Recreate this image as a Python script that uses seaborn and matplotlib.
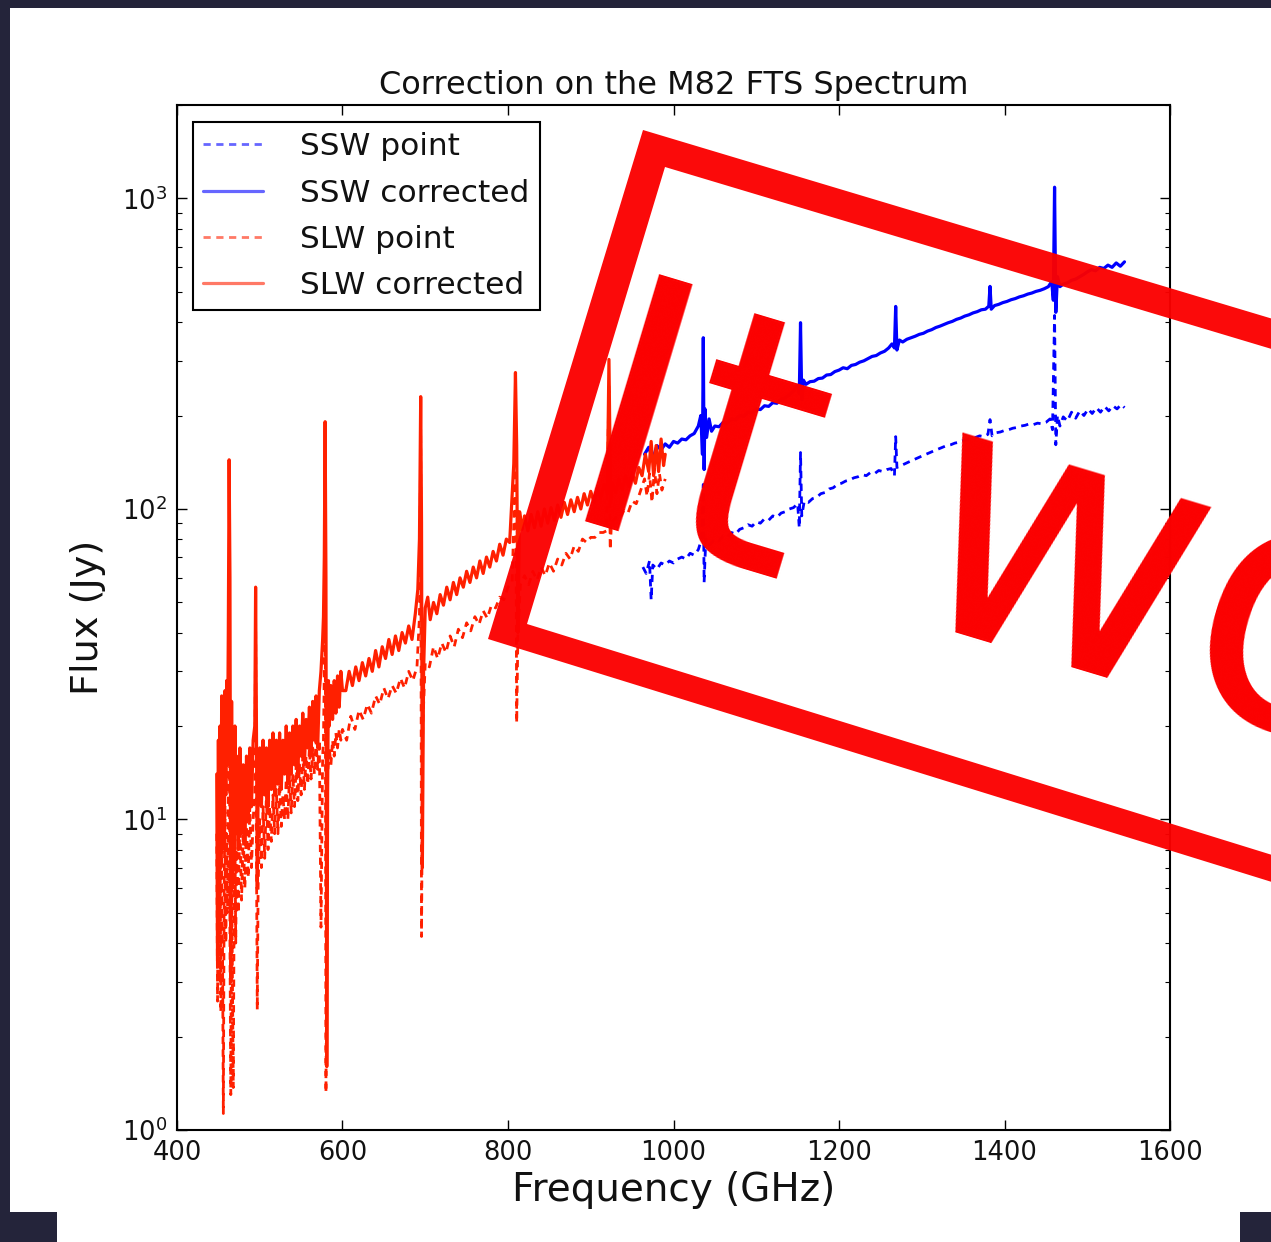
import matplotlib
matplotlib.use("Agg")
import matplotlib.pyplot as plt
import seaborn as sns
import pandas as pd
from matplotlib.path import Path
from matplotlib.patches import PathPatch, Rectangle

# ---------------- data ----------------
slw_corr_f = [448, 449, 450, 451, 452, 453, 454, 455, 456, 457,
              458, 459, 460, 461, 462, 463, 464, 465, 466, 467,
              468, 469, 470, 471, 472, 474, 476, 478, 480, 482,
              484, 486, 488, 490, 492, 494, 495, 496, 497, 498,
              500, 502, 504, 506, 508, 510, 512, 514, 516, 518,
              520, 522, 524, 526, 528, 530, 532, 534, 536, 538,
              540, 542, 544, 546, 548, 550, 552, 554, 556, 558,
              560, 562, 564, 566, 568, 570, 572, 574, 576, 577,
              578, 579, 580, 581, 582, 583, 584, 586, 588, 590,
              592, 594, 596, 598, 600,
              604, 608, 612, 616, 620, 624, 628, 632, 636, 640,
              644, 648, 652, 656, 660, 664, 668, 672, 676, 680,
              684, 688, 691, 693, 694.5, 695.5, 696.5, 698, 700, 703,
              706, 710, 714, 718, 722, 726, 730, 734, 738, 742,
              746, 750, 754, 758, 762, 766, 770, 774, 778, 782,
              786, 790, 794, 798, 802, 805, 807, 809, 810.5, 812,
              814, 817, 820, 824, 828, 832, 836, 840, 844, 848,
              852, 856, 860, 864, 868, 872, 876, 880, 884, 888,
              892, 896, 900, 904, 908, 912, 916, 920, 922, 924,
              926, 930, 934, 938, 942, 946, 950, 954, 958, 962,
              966, 970, 973, 976, 979, 982, 985, 988, 990]
slw_corr_jy = [14, 3.5, 18, 5, 20, 7, 25, 8, 22, 9,
               26, 12, 28, 15, 40, 144, 60, 3, 24, 6,
               18, 7, 20, 9, 16, 8, 17, 9, 15, 8.5,
               16, 10, 17, 11, 18, 20, 56, 20, 6, 12,
               17, 11, 18, 12, 17, 11, 18, 12.5, 19, 12,
               18, 13, 19, 12.5, 18, 14, 20, 13, 19, 14,
               20, 15, 21, 14, 20, 16, 22, 15, 21, 17,
               23, 16, 24, 18, 25, 17, 26, 30, 38, 45,
               70, 191, 60, 1.6, 12, 28, 20, 27, 21, 28,
               22, 29, 23, 30, 26,
               26, 30, 27, 31, 28, 32, 29, 33, 30, 35,
               31, 36, 33, 38, 34, 39, 35, 40, 37, 42,
               38, 46, 55, 80, 230, 90, 7, 30, 48, 52,
               44, 50, 46, 53, 49, 56, 51, 58, 53, 60,
               56, 63, 58, 65, 60, 68, 62, 70, 65, 73,
               68, 77, 71, 80, 78, 110, 140, 275, 160, 40,
               98, 86, 95, 85, 96, 87, 98, 88, 100, 90,
               101, 92, 103, 94, 105, 96, 107, 98, 109, 100,
               112, 103, 114, 105, 117, 108, 120, 112, 303, 105,
               122, 113, 125, 115, 128, 118, 131, 121, 136, 128,
               150, 132, 165, 128, 160, 132, 168, 138, 150]

slw_point_f = [448, 449, 450, 451, 452, 453, 454, 455, 456, 457,
               458, 459, 460, 461, 462, 463, 464, 465, 466, 467,
               468, 469, 470, 471, 472, 474, 476, 478, 480, 482,
               484, 486, 488, 490, 492, 494, 495, 496, 497, 498,
               500, 502, 504, 506, 508, 510, 512, 514, 516, 518,
               520, 522, 524, 526, 528, 530, 532, 534, 536, 538,
               540, 542, 544, 546, 548, 550, 552, 554, 556, 558,
               560, 562, 564, 566, 568, 570, 572, 574, 576, 577,
               578, 579, 580, 582, 584, 586, 588, 590, 592, 594,
               596, 598,
               600, 605, 610, 615, 620, 625, 630, 635, 640, 645,
               650, 655, 660, 665, 670, 675, 680, 685, 690, 693,
               694.5, 695.5, 697, 700, 705, 710, 715, 720, 725, 730,
               735, 740, 745, 750, 755, 760, 765, 770, 775, 780,
               785, 790, 795, 800, 805, 807, 809, 810.5, 812, 815,
               820, 825, 830, 835, 840, 845, 850, 855, 860, 865,
               870, 875, 880, 885, 890, 895, 900, 905, 910, 915,
               919, 922, 923.5, 925, 930, 935, 940, 945, 950, 955,
               960, 965, 968, 971, 974, 977, 980, 983, 986, 990]
slw_point_jy = [9, 2.6, 12, 3, 10, 2.4, 8, 4, 1.13, 6,
                11, 4, 9, 5, 14, 60, 4, 1.3, 7, 3,
                1.37, 5, 9, 4, 8, 5, 10, 5.5, 9, 6,
                10, 6.5, 11, 7, 10, 12, 45, 8, 2.44, 6,
                10, 7, 11, 7.5, 12, 8, 11, 8.5, 12, 9,
                12.5, 9, 13, 9.5, 12, 10, 13.5, 10, 14, 10.5,
                14, 11, 15, 11.5, 15, 12, 16, 12.5, 16, 13,
                17, 13.5, 17, 14, 18, 14.5, 18, 4.5, 16, 18,
                30, 120, 1.32, 14, 17, 15, 18, 16, 19, 17,
                19.5, 18,
                19.5, 18, 21.5, 19.5, 22.5, 21, 23.5, 22, 25, 23.5,
                26.5, 24.5, 27, 25.5, 28.5, 26.5, 30, 28, 31, 45,
                180, 4.2, 20, 32, 31, 36, 33, 37, 34.5, 39,
                36, 41, 38.5, 43, 40.5, 45, 42.5, 47, 44.5, 49,
                48, 52, 51, 56, 58, 90, 206, 20.5, 40, 57,
                61, 57, 63, 59, 65, 61, 67, 63, 69, 66,
                72, 69, 76, 73, 80, 78, 81, 81, 84, 84,
                85, 250, 74, 90, 94, 93, 99, 97, 106, 104,
                114, 125, 110, 130, 105, 135, 112, 130, 115, 125]

ssw_corr_f = [965, 970, 975, 980, 985, 990, 995, 1000, 1005, 1010,
              1015, 1020, 1025, 1030, 1033, 1035, 1036, 1037, 1038, 1040,
              1043, 1046, 1050, 1055, 1060, 1065, 1070, 1075, 1080, 1085,
              1090, 1095, 1100, 1105, 1110, 1115, 1120, 1125, 1130, 1135,
              1140, 1145, 1150, 1152, 1153.5, 1155, 1157, 1160, 1165, 1170,
              1175, 1180, 1185, 1190, 1195, 1200, 1205, 1210, 1215, 1220,
              1225, 1230, 1235, 1240, 1245, 1250, 1255, 1260, 1264, 1267,
              1268.5, 1270, 1273, 1277, 1282, 1287, 1292, 1297, 1302, 1307,
              1312, 1317, 1322, 1327, 1332, 1337, 1342, 1347, 1352, 1357,
              1362, 1367, 1372, 1377, 1381, 1382.5, 1384, 1388, 1393, 1398,
              1403, 1408, 1413, 1418, 1423, 1428, 1433, 1438, 1443, 1448,
              1453, 1457, 1459, 1460.5, 1462, 1464, 1467, 1471, 1476, 1481,
              1486, 1491, 1496, 1500, 1505, 1510, 1515, 1520, 1525, 1530,
              1535, 1540, 1545]
ssw_corr_jy = [150, 158, 145, 160, 155, 162, 158, 165, 163, 168,
               167, 172, 175, 185, 200, 150, 356, 134, 210, 170,
               195, 178, 185, 184, 190, 189, 195, 194, 200, 199,
               205, 204, 210, 209, 215, 214, 220, 219, 226, 228,
               233, 240, 250, 235, 398, 225, 260, 252, 257, 258,
               263, 264, 270, 271, 277, 280, 285, 283, 290, 292,
               297, 300, 305, 310, 312, 318, 322, 330, 340, 330,
               449, 325, 350, 345, 352, 356, 360, 365, 368, 374,
               378, 384, 388, 393, 398, 402, 408, 412, 418, 422,
               428, 432, 438, 440, 450, 521, 440, 452, 456, 462,
               466, 472, 476, 482, 486, 492, 496, 502, 506, 512,
               520, 540, 470, 1087, 430, 560, 520, 530, 535, 545,
               550, 560, 570, 580, 590, 585, 600, 595, 610, 600,
               620, 605, 625]

ssw_point_f = [963, 967, 971, 973, 975, 980, 985, 990, 995, 1000,
               1005, 1010, 1015, 1020, 1025, 1030, 1034, 1036, 1037, 1039,
               1042, 1046, 1050, 1055, 1060, 1065, 1070, 1075, 1080, 1085,
               1090, 1095, 1100, 1105, 1110, 1115, 1120, 1125, 1130, 1135,
               1140, 1145, 1150, 1152, 1153.5, 1155, 1158, 1163, 1168, 1173,
               1178, 1183, 1188, 1193, 1198, 1203, 1208, 1213, 1218, 1223,
               1228, 1233, 1238, 1243, 1248, 1253, 1258, 1263, 1267, 1268.5,
               1270, 1275, 1280, 1285, 1290, 1295, 1300, 1305, 1310, 1315,
               1320, 1325, 1330, 1335, 1340, 1345, 1350, 1355, 1360, 1365,
               1370, 1375, 1380, 1382.5, 1385, 1390, 1395, 1400, 1405, 1410,
               1415, 1420, 1425, 1430, 1435, 1440, 1445, 1450, 1455, 1458,
               1460.5, 1462, 1464, 1467, 1471, 1476, 1481, 1486, 1491, 1496,
               1501, 1506, 1511, 1516, 1521, 1526, 1531, 1536, 1541, 1545]
ssw_point_jy = [65, 62, 68, 51, 66, 64, 67, 66, 68, 67,
                69, 70, 69, 72, 71, 74, 80, 120, 58, 80,
                76, 78, 80, 79, 82, 81, 84, 83, 86, 87,
                89, 88, 91, 90, 93, 92, 95, 94, 97, 98,
                100, 101, 104, 87, 152, 95, 106, 105, 108, 109,
                112, 113, 116, 117, 120, 121, 123, 124, 126, 127,
                129, 128, 131, 130, 133, 132, 134, 135, 128, 171,
                136, 138, 140, 142, 144, 146, 148, 150, 152, 154,
                156, 158, 160, 161, 163, 164, 166, 167, 169, 170,
                172, 171, 174, 194, 172, 176, 177, 179, 180, 182,
                183, 185, 186, 188, 187, 189, 188, 190, 195, 180,
                420, 161, 200, 185, 198, 192, 205, 196, 207, 200,
                210, 203, 212, 205, 214, 207, 215, 210, 217, 212]

x_ticks = [400, 600, 800, 1000, 1200, 1400, 1600]
title = "Correction on the M82 FTS Spectrum"
stamp_text = "It works!"

# ---------------- styling ----------------
sns.set_theme(style="white")
plt.rcParams["font.family"] = ["DejaVu Sans"]
plt.rcParams["mathtext.fontset"] = "dejavusans"

W, H = 1271, 1242
fig = plt.figure(figsize=(W / 100, H / 100), dpi=100, facecolor="#24243a")

def fx(x):
    return x / W

def fy(y):
    return (H - y) / H

# white slide areas (behind everything)
fig.patches.append(Rectangle((fx(10), fy(1212)), fx(1271 - 10), (1212 - 8) / H,
                             transform=fig.transFigure, facecolor="white",
                             edgecolor="none", zorder=-5))
fig.patches.append(Rectangle((fx(57), 0), fx(1240 - 57), 30 / H,
                             transform=fig.transFigure, facecolor="white",
                             edgecolor="none", zorder=-5))

ax = fig.add_axes([fx(177), fy(1130), fx(1170 - 177), (1130 - 105) / H])
ax.set_zorder(1)
ax.set_facecolor("white")

series = [
    ("SSW point", ssw_point_f, ssw_point_jy, "#0000ff", True),
    ("SSW corrected", ssw_corr_f, ssw_corr_jy, "#0000ff", False),
    ("SLW point", slw_point_f, slw_point_jy, "#ff2000", True),
    ("SLW corrected", slw_corr_f, slw_corr_jy, "#ff2000", False),
]
for name, f, j, col, dashed in series:
    assert len(f) == len(j), name
    df = pd.DataFrame({"Frequency": f, "Flux": j})
    sns.lineplot(data=df, x="Frequency", y="Flux", ax=ax, color=col,
                 linewidth=2.0 if dashed else 2.3, estimator=None, sort=False,
                 label=name)
    if dashed:
        ax.lines[-1].set_linestyle((0, (2.6, 2.0)))

ax.set_yscale("log")
ax.set_xlim(400, 1600)
ax.set_ylim(1, 2000)
ax.set_xticks(x_ticks)
ax.set_xticklabels([str(t) for t in x_ticks])

for s in ax.spines.values():
    s.set_color("black")
    s.set_linewidth(1.5)
    s.set_visible(True)
ax.tick_params(which="both", direction="in", top=True, right=True,
               bottom=True, left=True, colors="black", labelcolor="#111111")
ax.tick_params(which="major", length=7, width=1, labelsize=18.5, pad=7)
ax.tick_params(which="minor", length=3.6, width=0.8)
ax.tick_params(axis="x", which="minor", bottom=False, top=False)

ax.set_title(title, fontsize=23, pad=8, color="#111111")
ax.set_xlabel("Frequency (GHz)", fontsize=28, labelpad=4, color="#111111")
ax.set_ylabel("Flux (Jy)", fontsize=27.5, labelpad=12, color="#111111")

leg = ax.legend(loc="upper left", bbox_to_anchor=(16 / 993, (1130 - 122) / 1025),
                borderaxespad=0, frameon=True, fancybox=False, shadow=False,
                fontsize=22.5, handlelength=1.9, handletextpad=1.2,
                labelspacing=0.55, borderpad=0.33, framealpha=1)
leg.get_frame().set_edgecolor("black")
leg.get_frame().set_linewidth(1.5)
for t in leg.get_texts():
    t.set_color("#111111")
for h in leg.get_lines():
    h.set_alpha(0.6)

# ---------------- stamp overlay ----------------
outer = [(643, 130), (1750, 130 + 0.30 * 1107), (1750, 639 + 0.31 * 1262), (488, 639)]
inner = [(665, 167), (527, 624), (1750, 624 + 0.31 * 1223), (1750, 167 + 0.30 * 1085)]
verts, codes = [], []
for ring in (outer, inner):
    pts = [(fx(x), fy(y)) for x, y in ring]
    verts += pts + [pts[0]]
    codes += [Path.MOVETO] + [Path.LINETO] * (len(pts) - 1) + [Path.CLOSEPOLY]
stamp = PathPatch(Path(verts, codes), transform=fig.transFigure,
                  facecolor="#fb0000", edgecolor="none", alpha=0.96, zorder=10)
fig.add_artist(stamp)

fig.text(fx(551), fy(511), stamp_text, rotation=-16.7, rotation_mode="anchor",
         ha="left", va="baseline", fontsize=255, color="#fb0000",
         family="DejaVu Sans", zorder=11)

fig.savefig("out.png", dpi=100, facecolor=fig.get_facecolor())
